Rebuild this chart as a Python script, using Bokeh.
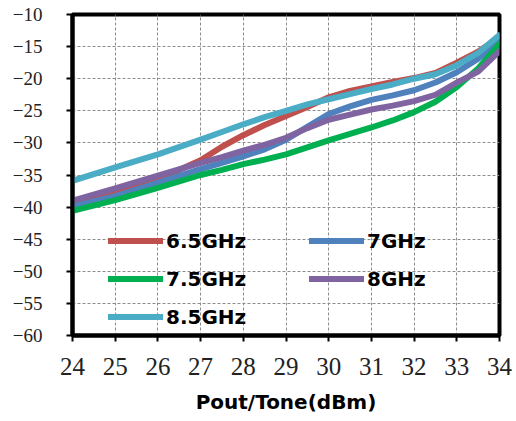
from bokeh.plotting import figure
from bokeh.models import Legend, LegendItem, FixedTicker
from bokeh.embed import file_html
from bokeh.resources import INLINE

x = [24, 25, 26, 27, 27.5, 28, 28.5, 29, 29.5, 30, 30.5, 31, 31.5, 32, 32.5, 33, 33.5, 34]
s65 = [-39.8, -37.9, -35.7, -32.7, -30.6, -28.8, -27.2, -25.8, -24.4, -22.9, -21.9, -21.2, -20.5, -19.9, -19.1, -17.5, -15.8, -13.5]
s7 = [-39.9, -38.3, -36.2, -34.1, -33.1, -32.1, -31.0, -29.5, -27.5, -25.5, -24.3, -23.3, -22.6, -21.8, -20.6, -19.0, -16.9, -14.1]
s75 = [-40.6, -38.9, -37.0, -35.0, -34.2, -33.3, -32.6, -31.8, -30.7, -29.6, -28.6, -27.6, -26.5, -25.2, -23.6, -21.3, -18.4, -14.6]
s8 = [-39.0, -37.1, -35.1, -33.1, -32.2, -31.2, -30.3, -29.2, -27.7, -26.4, -25.6, -24.8, -24.2, -23.5, -22.5, -20.6, -18.9, -15.7]
s85 = [-35.9, -33.8, -31.8, -29.5, -28.3, -27.1, -26.0, -25.0, -24.0, -23.2, -22.4, -21.6, -20.9, -20.0, -19.3, -17.9, -16.0, -13.2]

series = [("6.5GHz", s65, "#C0504D"), ("7GHz", s7, "#4F81BD"), ("7.5GHz", s75, "#00B050"),
          ("8GHz", s8, "#8064A2"), ("8.5GHz", s85, "#4BACC6")]
legend_order = ["6.5GHz", "7.5GHz", "8.5GHz", "7GHz", "8GHz"]

x_ticks = list(range(24, 35))
y_ticks = [-60, -55, -50, -45, -40, -35, -30, -25, -20, -15, -10]
y_tick_labels = ["\u221260", "\u221255", "\u221250", "\u221245", "\u221240", "\u221235",
                 "\u221230", "\u221225", "\u221220", "\u221215", "\u221210"]
x_title = "Pout/Tone(dBm)"

p = figure(width=516, height=421, output_backend="svg", toolbar_location=None,
           x_range=(24, 34), y_range=(-60, -10),
           min_border_left=72, min_border_right=17, min_border_top=14, min_border_bottom=86)
p.background_fill_color = "white"
p.border_fill_color = "white"
p.outline_line_color = "black"
p.outline_line_width = 4

renderers = {}
for name, ys, col in series:
    r = p.line(x, ys, line_color=col, line_width=6, line_join="round", line_cap="round")
    renderers[name] = r

p.xaxis.ticker = FixedTicker(ticks=x_ticks)
p.yaxis.ticker = FixedTicker(ticks=y_ticks)
p.yaxis.major_label_overrides = {t: l for t, l in zip(y_ticks, y_tick_labels)}

for ax in (p.xaxis[0], p.yaxis[0]):
    ax.axis_line_color = "black"
    ax.axis_line_width = 4
    ax.major_tick_line_color = "black"
    ax.major_tick_line_width = 2
    ax.major_tick_in = 0
    ax.major_tick_out = 6
    ax.minor_tick_line_color = None
    ax.major_label_text_font = "Liberation Serif"
    ax.major_label_text_color = "#222222"

p.xaxis.major_label_text_font_size = "25px"
p.xaxis.major_label_standoff = 16
p.yaxis.major_label_text_font_size = "19px"
p.yaxis.major_label_standoff = 24

p.xaxis.axis_label = x_title
p.xaxis.axis_label_text_font = "DejaVu Sans"
p.xaxis.axis_label_text_font_style = "bold"
p.xaxis.axis_label_text_font_size = "20px"
p.xaxis.axis_label_text_color = "black"
p.xaxis.axis_label_standoff = 12

for g in (p.xgrid[0], p.ygrid[0]):
    g.grid_line_color = "#8c8c8c"
    g.grid_line_dash = "3 2"
    g.grid_line_width = 1

legend = Legend(items=[LegendItem(label=n, renderers=[renderers[n]]) for n in legend_order],
                location=(36, 1), ncols=2, orientation="vertical")
legend.background_fill_alpha = 0
legend.border_line_alpha = 0
legend.padding = 0
legend.margin = 0
legend.spacing = 3
legend.glyph_width = 55
legend.glyph_height = 35
legend.label_height = 35
legend.label_width = 140
legend.label_standoff = 3
legend.label_text_font = "DejaVu Sans"
legend.label_text_font_style = "bold"
legend.label_text_font_size = "20px"
legend.label_text_color = "black"
p.add_layout(legend, "center")

open("out.html", "w").write(file_html(p, INLINE))
